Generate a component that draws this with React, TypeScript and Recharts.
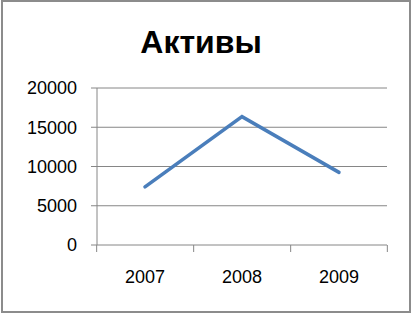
import { CartesianGrid, Line, LineChart, XAxis, YAxis } from 'recharts';

const years = ['2007', '2008', '2009'];
const assets = [7400, 16350, 9250];
const yTicks = [0, 5000, 10000, 15000, 20000];

const data = years.map((year, i) => ({ year, assets: assets[i] }));

const font = '"Liberation Sans", Arial, sans-serif';
const axisGray = '#868686';

// label in the middle of the category, tick marks on the category boundaries (Excel style)
function YearTick(props: any) {
  const { x, y, payload, index, visibleTicksCount, width } = props;
  const half = Number(width) / visibleTicksCount / 2;
  const last = index === visibleTicksCount - 1;
  return (
    <g>
      <line x1={x - half} x2={x - half} y1={y} y2={y + 7} stroke={axisGray} />
      {last && <line x1={x + half} x2={x + half} y1={y} y2={y + 7} stroke={axisGray} />}
      <text x={x} y={y + 25} dy="0.71em" textAnchor="middle" fontSize={18} fontFamily={font} fill="#000">
        {payload.value}
      </text>
    </g>
  );
}

export default function App() {
  return (
    <div style={{ position: 'fixed', left: 0, top: 0, width: 411, height: 313, background: '#fff' }}>
      <div
        style={{
          position: 'absolute',
          left: 1,
          top: 0,
          width: 410,
          height: 313,
          border: '2px solid #8c8c8c',
          boxSizing: 'border-box',
        }}
      />
      <div
        style={{
          position: 'absolute',
          left: 0,
          top: 26,
          width: 402,
          textAlign: 'center',
          fontFamily: font,
          fontWeight: 'bold',
          fontSize: 32,
          lineHeight: '32px',
          color: '#000',
        }}
      >
        Активы
      </div>
      <LineChart
        width={411}
        height={313}
        data={data}
        margin={{ top: 88, right: 24, bottom: 0, left: 0 }}
        style={{ position: 'absolute', left: 0, top: 0 }}
      >
        <CartesianGrid vertical={false} stroke={axisGray} strokeWidth={1} />
        <XAxis
          dataKey="year"
          height={68}
          padding={{ left: 48, right: 48 }}
          axisLine={false}
          tickLine={false}
          tickSize={0}
          tickMargin={0}
          interval={0}
          tick={<YearTick />}
        />
        <YAxis
          width={97}
          domain={[0, 20000]}
          ticks={yTicks}
          tickSize={6}
          tickMargin={14}
          stroke={axisGray}
          tick={{ fontSize: 18, fill: '#000', fontFamily: font }}
        />
        <Line
          type="linear"
          dataKey="assets"
          stroke="#4a7ebb"
          strokeWidth={3.5}
          strokeLinecap="round"
          dot={false}
          activeDot={false}
          isAnimationActive={false}
        />
      </LineChart>
    </div>
  );
}
